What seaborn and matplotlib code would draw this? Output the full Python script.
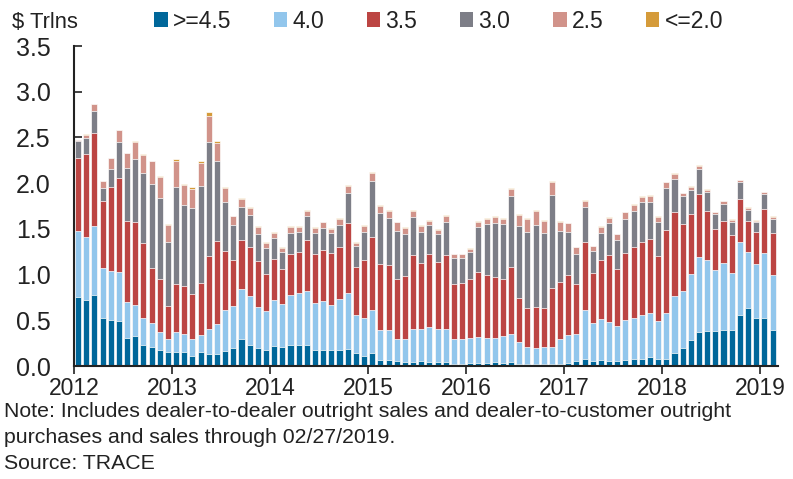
import numpy as np
import pandas as pd
import matplotlib
matplotlib.use("Agg")
import matplotlib.pyplot as plt
from matplotlib.patches import Patch
import seaborn as sns

sns.set_theme(style="white")
plt.rcParams['font.family'] = ['Liberation Sans', 'DejaVu Sans']

# monthly volumes, Jan 2012 .. Feb 2019, $ trillions, by coupon bucket
ge45 = [0.75, 0.72, 0.78, 0.53, 0.50, 0.49, 0.31, 0.33, 0.23, 0.21, 0.18, 0.15,
        0.15, 0.15, 0.11, 0.15, 0.13, 0.13, 0.16, 0.20, 0.30, 0.23, 0.20, 0.17,
        0.22, 0.21, 0.23, 0.23, 0.23, 0.18, 0.18, 0.17, 0.18, 0.19, 0.14, 0.11,
        0.14, 0.07, 0.07, 0.05, 0.04, 0.04, 0.06, 0.04, 0.04, 0.04, 0.02, 0.02,
        0.03, 0.03, 0.03, 0.04, 0.03, 0.04, 0.02, 0.02, 0.02, 0.02, 0.02, 0.02,
        0.03, 0.05, 0.08, 0.06, 0.07, 0.06, 0.06, 0.07, 0.08, 0.08, 0.10, 0.08,
        0.08, 0.14, 0.20, 0.28, 0.37, 0.38, 0.38, 0.39, 0.39, 0.56, 0.63, 0.53,
        0.53, 0.39]
c40 = [0.73, 0.69, 0.75, 0.54, 0.54, 0.54, 0.39, 0.34, 0.30, 0.26, 0.19, 0.14,
       0.22, 0.20, 0.18, 0.19, 0.27, 0.33, 0.45, 0.46, 0.54, 0.54, 0.45, 0.43,
       0.50, 0.47, 0.55, 0.57, 0.59, 0.51, 0.53, 0.50, 0.55, 0.61, 0.42, 0.41,
       0.47, 0.32, 0.32, 0.25, 0.26, 0.36, 0.35, 0.39, 0.37, 0.37, 0.27, 0.28,
       0.28, 0.29, 0.28, 0.27, 0.30, 0.31, 0.24, 0.19, 0.18, 0.19, 0.19, 0.27,
       0.31, 0.30, 0.53, 0.41, 0.44, 0.42, 0.38, 0.43, 0.45, 0.48, 0.48, 0.41,
       0.50, 0.63, 0.62, 0.73, 0.82, 0.78, 0.67, 0.74, 0.63, 0.80, 0.62, 0.59,
       0.71, 0.60]
c35 = [0.80, 0.91, 1.02, 0.73, 0.92, 1.03, 0.89, 0.91, 0.81, 0.60, 0.58, 0.37,
       0.53, 0.52, 0.50, 0.57, 0.80, 0.91, 0.65, 0.50, 0.54, 0.53, 0.50, 0.41,
       0.45, 0.38, 0.44, 0.45, 0.56, 0.53, 0.56, 0.57, 0.57, 0.76, 0.52, 0.64,
       0.80, 0.73, 0.72, 0.65, 0.68, 0.81, 0.72, 0.80, 0.73, 0.80, 0.61, 0.61,
       0.64, 0.71, 0.69, 0.66, 0.62, 0.73, 0.48, 0.42, 0.45, 0.42, 0.64, 0.63,
       0.65, 0.55, 0.75, 0.55, 0.65, 0.73, 0.62, 0.74, 0.77, 0.80, 0.81, 0.71,
       0.91, 0.91, 0.73, 0.65, 0.69, 0.53, 0.45, 0.46, 0.41, 0.47, 0.34, 0.35,
       0.48, 0.46]
c30 = [0.18, 0.17, 0.24, 0.15, 0.20, 0.39, 0.58, 0.68, 0.77, 0.92, 0.89, 0.70,
       1.06, 0.89, 0.94, 1.06, 1.25, 0.87, 0.53, 0.38, 0.36, 0.35, 0.29, 0.28,
       0.23, 0.19, 0.23, 0.22, 0.26, 0.23, 0.24, 0.22, 0.24, 0.33, 0.23, 0.31,
       0.61, 0.55, 0.51, 0.53, 0.46, 0.42, 0.34, 0.31, 0.30, 0.37, 0.28, 0.27,
       0.30, 0.49, 0.55, 0.59, 0.60, 0.78, 0.79, 0.84, 0.89, 0.82, 1.02, 0.56,
       0.48, 0.33, 0.38, 0.24, 0.30, 0.35, 0.32, 0.37, 0.40, 0.43, 0.40, 0.37,
       0.46, 0.37, 0.31, 0.27, 0.27, 0.21, 0.16, 0.18, 0.15, 0.18, 0.12, 0.11,
       0.16, 0.16]
c25 = [0.01, 0.04, 0.08, 0.07, 0.11, 0.13, 0.16, 0.19, 0.20, 0.25, 0.23, 0.18,
       0.28, 0.22, 0.21, 0.25, 0.28, 0.20, 0.16, 0.10, 0.09, 0.08, 0.08, 0.06,
       0.06, 0.04, 0.07, 0.05, 0.06, 0.06, 0.06, 0.04, 0.07, 0.08, 0.04, 0.06,
       0.09, 0.08, 0.08, 0.09, 0.07, 0.07, 0.06, 0.05, 0.05, 0.06, 0.04, 0.04,
       0.03, 0.06, 0.06, 0.07, 0.06, 0.08, 0.12, 0.14, 0.16, 0.14, 0.14, 0.10,
       0.09, 0.07, 0.07, 0.05, 0.06, 0.06, 0.06, 0.07, 0.06, 0.06, 0.07, 0.06,
       0.06, 0.05, 0.03, 0.03, 0.04, 0.03, 0.02, 0.03, 0.02, 0.02, 0.02, 0.01,
       0.02, 0.02]
le20 = [0.0, 0.01, 0.0, 0.0, 0.0, 0.0, 0.005, 0.007, 0.005, 0.005, 0.005, 0.015,
        0.029, 0.014, 0.018, 0.026, 0.044, 0.018, 0.011, 0.004, 0.007, 0.007, 0.007, 0.007,
        0.007, 0.007, 0.01, 0.01, 0.01, 0.01, 0.01, 0.01, 0.01, 0.01, 0.01, 0.01,
        0.01, 0.007, 0.007, 0.007, 0.007, 0.007, 0.007, 0.007, 0.007, 0.007, 0.007, 0.007,
        0.007, 0.007, 0.007, 0.007, 0.01, 0.01, 0.01, 0.01, 0.01, 0.01, 0.014, 0.007,
        0.007, 0.007, 0.007, 0.007, 0.007, 0.007, 0.007, 0.007, 0.007, 0.007, 0.007, 0.007,
        0.007, 0.007, 0.007, 0.007, 0.007, 0.007, 0.007, 0.007, 0.007, 0.007, 0.007, 0.007,
        0.007, 0.007]

series_labels = [">=4.5", "4.0", "3.5", "3.0", "2.5", "<=2.0"]
colors = ["#00679A", "#92C6EC", "#BC4543", "#7D7E87", "#D1938A", "#D59B3A"]
years = ["2012", "2013", "2014", "2015", "2016", "2017", "2018", "2019"]

df = pd.DataFrame(np.array([ge45, c40, c35, c30, c25, le20]).T, columns=series_labels)
df["month"] = np.arange(len(df))
cum = df[series_labels].cumsum(axis=1)

fig = plt.figure(figsize=(7.93, 4.79), dpi=100)
ax = fig.add_axes([74/793, 1-366/479, (778-74)/793, (366-46)/479])

# draw tallest cumulative first so lower buckets sit on top
for lab, col in reversed(list(zip(series_labels, colors))):
    sns.barplot(x=df["month"], y=cum[lab], color=col, saturation=1, width=0.74,
                edgecolor="white", linewidth=0.5, errorbar=None,
                native_scale=True, ax=ax)

ax.set_xlim(-0.5, 85.67)
ax.set_ylim(0, 3.5)
ax.set_xticks(np.arange(len(years))*12 - 0.5)
ax.set_xticklabels(years)
ax.set_yticks(np.arange(0, 3.51, 0.5))
ax.set_yticklabels([f"{v:.1f}" for v in np.arange(0, 3.51, 0.5)])
ax.set_xlabel("")
ax.set_ylabel("")
sns.despine(ax=ax)
for s in ["left", "bottom"]:
    ax.spines[s].set_color("#222222")
    ax.spines[s].set_linewidth(1.5)
ax.tick_params(axis="y", direction="in", length=6, width=1.2, color="#222222",
               labelsize=18, pad=17, left=True, labelcolor="#222222")
ax.tick_params(axis="x", direction="out", length=6, width=1.2, color="#222222",
               labelsize=16.5, pad=2, bottom=True, labelcolor="#222222")
ax.grid(False)

fig.text(12/793, 1-28/479, "$ Trlns", fontsize=15.8, va="baseline", ha="left", color="#222222")
handles = [Patch(facecolor=c, edgecolor="none") for c in colors]
fig.legend(handles, series_labels, loc="center left", bbox_to_anchor=(154/793, 1-21/479),
           ncol=6, frameon=False, fontsize=16.5, handlelength=0.6, handleheight=0.6,
           handletextpad=0.22, columnspacing=1.85, borderpad=0, borderaxespad=0,
           labelcolor="#222222")

note_lines = ["Note: Includes dealer-to-dealer outright sales and dealer-to-customer outright",
              "purchases and sales through 02/27/2019.",
              "Source: TRACE"]
for i, line in enumerate(note_lines):
    fig.text(4/793, 1-(417 + 26*i)/479, line, fontsize=15.3, va="baseline", ha="left",
             color="#222222")

fig.savefig("out.png", dpi=100)
